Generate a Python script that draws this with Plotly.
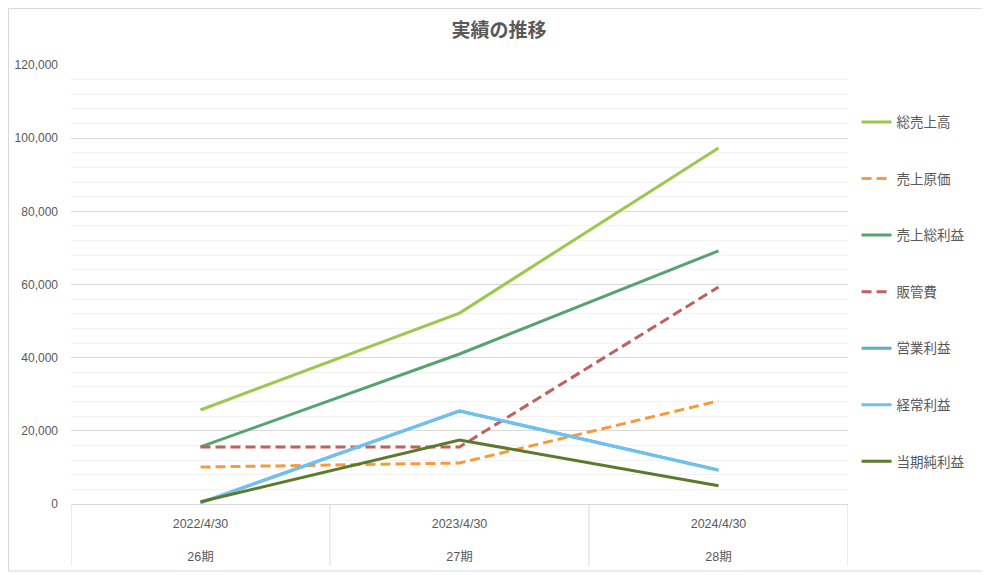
import plotly.graph_objects as go

# categories
periods = ["26期", "27期", "28期"]
dates = ["2022/4/30", "2023/4/30", "2024/4/30"]

# series values
total_sales = [25700, 52200, 97300]
cost_of_sales = [10100, 11200, 28200]
gross_profit = [15600, 41000, 69200]
sga = [15600, 15600, 59300]
operating_profit = [300, 25400, 9300]
ordinary_profit = [400, 25500, 9200]
net_profit = [600, 17500, 5000]

series = [
    ("総売上高", total_sales, "#9BC84D", "solid"),
    ("売上原価", cost_of_sales, "#F79A3B", "10px,5px"),
    ("売上総利益", gross_profit, "#55A46F", "solid"),
    ("販管費", sga, "#C0615E", "10px,5px"),
    ("営業利益", operating_profit, "#5AAED0", "solid"),
    ("経常利益", ordinary_profit, "#6EC1F1", "solid"),
    ("当期純利益", net_profit, "#5B7A2A", "solid"),
]

font_family = "Liberation Sans, Noto Sans CJK JP, sans-serif"
W, H = 982, 567
L, R, T, B = 63, 142, 57, 71
plot_w, plot_h = W - L - R, H - T - B

fig = go.Figure()
for name, values, color, dash in series:
    fig.add_trace(
        go.Scatter(
            x=dates,
            y=values,
            name=name,
            legendgroup=name,
            mode="lines",
            line=dict(color=color, width=3, dash=dash),
        )
    )

fig.update_layout(
    width=W,
    height=H,
    margin=dict(l=L, r=R, t=T, b=B),
    paper_bgcolor="white",
    plot_bgcolor="white",
    font=dict(family=font_family, size=12, color="#595959"),
    title=dict(
        text="<b>実績の推移</b>",
        x=0.5,
        xref="container",
        y=1 - 22 / H,
        yanchor="middle",
        font=dict(family="Noto Sans CJK JP", size=19, color="#595959"),
    ),
    legend=dict(
        x=1.011,
        y=0.905,
        xanchor="left",
        yanchor="top",
        tracegroupgap=36,
        font=dict(family="Noto Sans CJK JP", size=13.5, color="#595959"),
        itemwidth=30,
    ),
    showlegend=True,
)

fig.update_yaxes(
    range=[0, 120000],
    dtick=20000,
    tickformat=",",
    showgrid=True,
    gridcolor="#D9D9D9",
    gridwidth=1,
    minor=dict(dtick=4000, showgrid=True, gridcolor="#F2F2F2"),
    zeroline=False,
    showline=False,
    ticks="",
    ticklabelstandoff=12,
    automargin=False,
    tickfont=dict(size=12, color="#595959"),
)

fig.update_xaxes(
    type="category",
    range=[-0.5, len(dates) - 0.5],
    tickvals=dates,
    ticktext=[f"{d}<br><br>{p}" for d, p in zip(dates, periods)],
    showline=True,
    linecolor="#D9D9D9",
    showgrid=False,
    ticks="",
    ticklabelstandoff=8,
    automargin=False,
    tickfont=dict(size=12.5, color="#595959"),
)

# category dividers below the axis
for i in range(len(dates) + 1):
    fig.add_shape(
        type="line",
        xref="x",
        yref="paper",
        x0=i - 0.5,
        x1=i - 0.5,
        y0=0,
        y1=-62 / plot_h,
        line=dict(color="#D9D9D9", width=1),
    )

# outer chart border
fig.add_shape(
    type="rect",
    xref="paper",
    yref="paper",
    x0=(0.5 - L) / plot_w,
    x1=(977 - L) / plot_w,
    y0=-(563 - (T + plot_h)) / plot_h,
    y1=(T + plot_h - 0.5) / plot_h,
    line=dict(color="#D9D9D9", width=1),
    fillcolor="rgba(0,0,0,0)",
    layer="below",
)

fig.write_html("out.html")
